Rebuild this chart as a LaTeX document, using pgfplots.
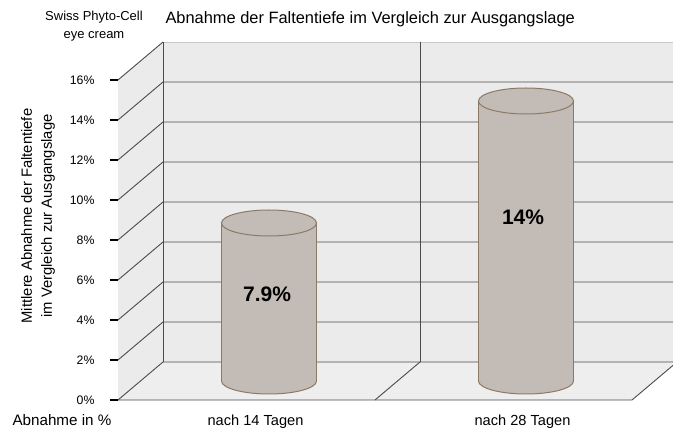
\documentclass[border=0pt]{standalone}
\usepackage{pgfplots}
\pgfplotsset{compat=1.18}
\usepackage{pgfplotstable}
\usepackage{fontspec}
\setmainfont{Liberation Sans}
\definecolor{wallc}{RGB}{235,235,235}
\definecolor{floorc}{RGB}{238,238,238}
\definecolor{gridc}{RGB}{75,75,75}
\definecolor{topc}{RGB}{200,200,200}
\definecolor{cylfill}{RGB}{195,187,181}
\definecolor{cyledge}{RGB}{140,122,102}

\pgfdeclareplotmark{cylbot}{%
  \pgfpathmoveto{\pgfqpoint{-47.5pt}{0pt}}%
  \pgfpatharc{180}{360}{47.5pt and 13pt}%
  \pgfusepathqfillstroke}
\pgfdeclareplotmark{cyltop}{%
  \pgfpathellipse{\pgfpointorigin}{\pgfqpoint{47.5pt}{0pt}}{\pgfqpoint{0pt}{13pt}}%
  \pgfusepathqfillstroke}

\pgfplotstableread{
x val
0.5 7.9
1.5 14
}\datatable

\tikzset{bk/.style={shift={(45pt,38pt)}}}

\begin{document}
\begin{tikzpicture}[x=1pt,y=1pt]
\useasboundingbox (0,0) rectangle (673,428);
\begin{axis}[
  at={(118pt,28pt)}, anchor=south west,
  x=257pt, y=20pt, xmin=0, xmax=2, ymin=0, ymax=16,
  clip=false,
  axis x line=none, axis y line*=left,
  y axis line style={draw=none},
  ytick={0,2,...,16},
  yticklabel={\pgfmathprintnumber{\tick}\%},
  tick align=outside, major tick length=8pt,
  ytick style={black, line width=1.2pt},
  yticklabel style={font=\fontsize{12.3}{14}\selectfont, xshift=-12pt},
  /pgf/number format/assume math mode=true,
]
% walls and floor
\fill[wallc] ([bk]axis cs:0,0) rectangle ([bk]axis cs:2,16);
\fill[wallc] (axis cs:0,0) -- ([bk]axis cs:0,0) -- ([bk]axis cs:0,16) -- (axis cs:0,16) -- cycle;
\fill[floorc] (axis cs:0,0) -- (axis cs:2,0) -- ([bk]axis cs:2,0) -- ([bk]axis cs:0,0) -- cycle;
% grid
\pgfplotsinvokeforeach{0,2,4,6,8,10,12,14}{
  \draw[gridc, line width=0.9pt] (axis cs:0,#1) -- ([bk]axis cs:0,#1) -- ([bk]axis cs:2,#1);
}
\draw[gridc, line width=0.9pt] (axis cs:0,16) -- ([bk]axis cs:0,16);
\draw[topc, line width=0.9pt] ([bk]axis cs:0,16) -- ([bk]axis cs:2,16);
\draw[gridc, line width=0.9pt] ([bk]axis cs:0,0) -- ([bk]axis cs:0,16);
\draw[gridc, line width=0.9pt] ([bk]axis cs:1,0) -- ([bk]axis cs:1,16);
\draw[gridc, line width=0.9pt] (axis cs:0,0) -- (axis cs:2,0) -- ([bk]axis cs:2,0);
\draw[gridc, line width=0.9pt] (axis cs:1,0) -- ([bk]axis cs:1,0);
% cylinders
\addplot[only marks, mark=cylbot, mark options={fill=cylfill, draw=cyledge, line width=1pt}, xshift=22.5pt, yshift=19pt] table[x=x, y expr=0] {\datatable};
\addplot[ybar, bar width=95pt, fill=cylfill, draw=none, xshift=22.5pt, yshift=19pt] table[x=x, y=val] {\datatable};
\addplot[ycomb, draw=cyledge, line width=1pt, no marks, xshift=-25pt, yshift=19pt] table[x=x, y=val] {\datatable};
\addplot[ycomb, draw=cyledge, line width=1pt, no marks, xshift=70pt, yshift=19pt] table[x=x, y=val] {\datatable};
\addplot[only marks, mark=cyltop, mark options={fill=cylfill, draw=cyledge, line width=1pt}, xshift=22.5pt, yshift=19pt] table[x=x, y=val] {\datatable};
\node[font=\bfseries\fontsize{21}{24}\selectfont] at (axis cs:0.58,5.3) {7.9\%};
\node[font=\bfseries\fontsize{21}{24}\selectfont] at (axis cs:1.576,9.15) {14\%};
\end{axis}
\node[anchor=base west, font=\fontsize{16.4}{19}\selectfont] at (162,404) {Abnahme der Faltentiefe im Vergleich zur Ausgangslage};
\node[align=center, font=\fontsize{13}{18}\selectfont] at (94,402) {Swiss Phyto-Cell\\eye cream};
\node[rotate=90, align=center, font=\fontsize{14.8}{20}\selectfont] at (38,212) {Mittlere Abnahme der Faltentiefe\\im Vergleich zur Ausgangslage};
\node[anchor=base west, font=\fontsize{15.2}{18}\selectfont] at (9,2) {Abnahme in \%};
\node[anchor=base, font=\fontsize{14.6}{17}\selectfont] at (255.5,2.5) {nach 14 Tagen};
\node[anchor=base, font=\fontsize{14.6}{17}\selectfont] at (522.5,2) {nach 28 Tagen};
\end{tikzpicture}
\end{document}
